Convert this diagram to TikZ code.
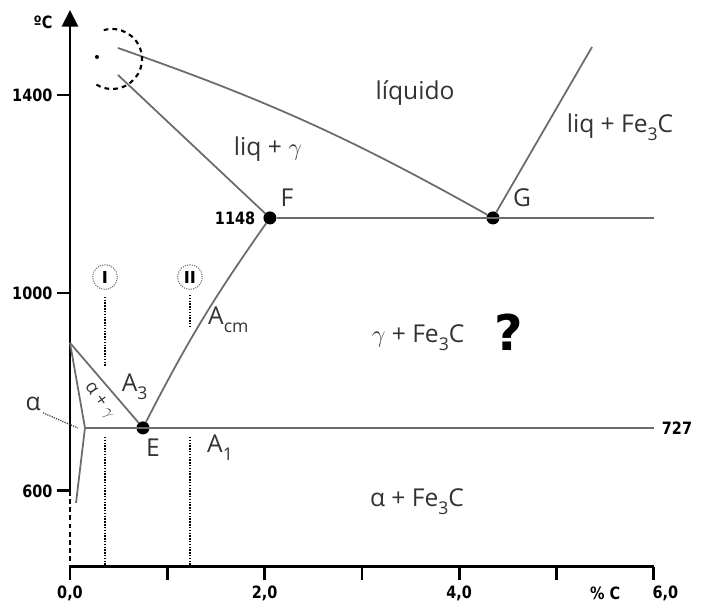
\documentclass[tikz,border=0pt]{standalone}
\usepackage{fontspec}
\setmainfont{Open Sans}
\newfontfamily\numfont[FakeStretch=0.85]{DejaVu Sans}
\newfontfamily\qfont{DejaVu Sans}
\usetikzlibrary{arrows.meta,positioning,calc}

% lowered index as in Fe3C, A3, Acm
\newcommand\lowidx[1]{\raisebox{-0.55ex}{\fontsize{15}{15}\selectfont #1}}
\newcommand\gam{$\gamma$}

\begin{document}
\begin{tikzpicture}[
    x=2.919cm, y=0.01485cm,
    axis/.style={line width=2.4pt, black},
    phase/.style={line width=1.5pt, black!58},
    guide/.style={line width=1.5pt, black, dash pattern=on 1.2pt off 1.2pt},
    dot/.style={circle, fill=black, inner sep=0pt, minimum size=0.39cm},
    ring/.style={circle, draw=black!55, dash pattern=on 1pt off 1pt, line width=0.9pt, minimum size=0.74cm, inner sep=0pt, font=\qfont\bfseries\fontsize{14}{14}\selectfont},
    lbl/.style={font=\fontsize{21}{24}\selectfont, text=black!80, inner sep=0pt},
    num/.style={font=\numfont\bfseries\fontsize{14.5}{14.5}\selectfont, inner sep=1pt}
]
    \useasboundingbox (-0.7194,365.7) rectangle (6.4953,1591.9);

    % axes
    \draw[axis, -{Triangle[width=0.48cm, length=0.5cm]}] (0,600) -- (0,1571.7);
    \draw[axis, dash pattern=on 4pt off 3pt] (0,600) -- (0,446.5);
    \draw[axis] (0,446.5) -- (6,446.5);
    \foreach \c in {0,...,6}
        \draw[axis] (\c,446.5) -- (\c,420);
    \foreach \t in {600,1000,1400}
        \draw[axis] (-0.134,\t) -- (0,\t) node[num, anchor=east, xshift=-0.45cm] (ty\t) {\t};
    \node[num] (tx0) at (0,393) {0,0};
    \node[num] (tx2) at (2,393) {2,0};
    \node[num] (tx4) at (4,393) {4,0};
    \node[num] (txC) at (5.5,393) {\% C};
    \node[num] (tx6) at (6.12,393) {6,0};
    \node[num] (degC) at (-0.277,1547.5) {ºC};

    % points
    \coordinate (liqA) at (0.493,1494.9);
    \coordinate (solA) at (0.493,1440.4);
    \coordinate (cemTop) at (5.365,1497);
    \coordinate (eutR) at (6,1151.5);
    \coordinate (a3Top) at (0,899);
    \coordinate (aCorner) at (0.154,727.3);
    \coordinate (aBot) at (0.062,575.8);
    \coordinate (eutdR) at (6,727.3);
    \node[dot] (F) at (2.055,1151.5) {};
    \node[dot] (G) at (4.347,1151.5) {};
    \node[dot] (E) at (0.75,727.3) {};

    % phase boundaries
    \draw[phase] (liqA) to[bend left=5] (G);
    \draw[phase] (solA) -- (F);
    \draw[phase] (G) -- (cemTop);
    \draw[phase] (F) -- (eutR);
    \draw[phase] (E) to[bend left=4] (F);
    \draw[phase] (a3Top) -- (E);
    \draw[phase] (a3Top) -- (aCorner) -- (aBot);
    \draw[phase] (aCorner) -- (eutdR);

    % dashed zoom circle
    \coordinate (zoomC) at (0.432,1472.7);
    \draw[line width=1.8pt, dash pattern=on 4pt off 3.5pt] (zoomC) ++(106:0.9cm) arc[start angle=106, end angle=-128, radius=0.9cm];
    \node[circle, fill=black, inner sep=0pt, minimum size=0.12cm] (zoomDot) at (0.277,1476.8) {};

    % alloys I and II
    \node[ring] (rI) at (0.36,1032) {I};
    \node[ring] (rII) at (1.233,1032) {II};
    \coordinate (iTop) at (0.36,992);
    \coordinate (iMid) at (0.36,850);
    \coordinate (iLow) at (0.36,709);
    \coordinate (iAx) at (0.36,446.5);
    \coordinate (iiTop) at (1.233,996);
    \coordinate (iiMid) at (1.233,931);
    \coordinate (iiLow) at (1.233,709);
    \coordinate (iiAx) at (1.233,446.5);
    \draw[guide] (iTop) -- (iMid);
    \draw[guide] (iLow) -- (iAx);
    \draw[guide] (iiTop) -- (iiMid);
    \draw[guide] (iiLow) -- (iiAx);

    % labels
    \node[lbl, anchor=base] (liquido) at (3.546,1389.9) {líquido};
    \node[lbl, anchor=base] (liqG) at (2.035,1276.8) {liq + \gam};
    \node[lbl, anchor=base] (liqC) at (5.653,1323.2) {liq + Fe\lowidx{3}C};
    \node[lbl, anchor=base] (lF) at (2.23,1173.7) {F};
    \node[lbl, anchor=base] (lG) at (4.645,1173.7) {G};
    \node[num, left=0.2cm of F] (t1148) {1148};
    \node[lbl, anchor=base west] (lAcm) at (1.418,935.4) {A\lowidx{cm}};
    \node[lbl, anchor=base] (gC) at (3.577,899) {\gam\ + Fe\lowidx{3}C};
    \node[font=\qfont\bfseries\fontsize{42}{42}\selectfont, inner sep=0pt] (quest) at (4.512,921) {?};
    \node[lbl, anchor=base west] (lA3) at (0.53,800) {A\lowidx{3}};
    \node[lbl, anchor=base] (lE) at (0.853,668.7) {E};
    \node[lbl, anchor=base west] (lA1) at (1.408,676.8) {A\lowidx{1}};
    \node[lbl, anchor=base] (aC) at (3.566,567.7) {α + Fe\lowidx{3}C};
    \node[lbl, rotate=-55, font=\fontsize{15.5}{15.5}\selectfont] (aG) at (0.3,782) {α + \gam};
    \node[num] (t727) at (6.238,727.3) {727};
    \node[lbl, anchor=base] (lAlpha) at (-0.38,761.6) {α};
    \coordinate (aLeadA) at (-0.277,757.6);
    \coordinate (aLeadB) at (0.082,727);
    \draw[line width=1pt, black!80, dash pattern=on 1pt off 1pt] (aLeadA) -- (aLeadB);
\end{tikzpicture}
\end{document}
